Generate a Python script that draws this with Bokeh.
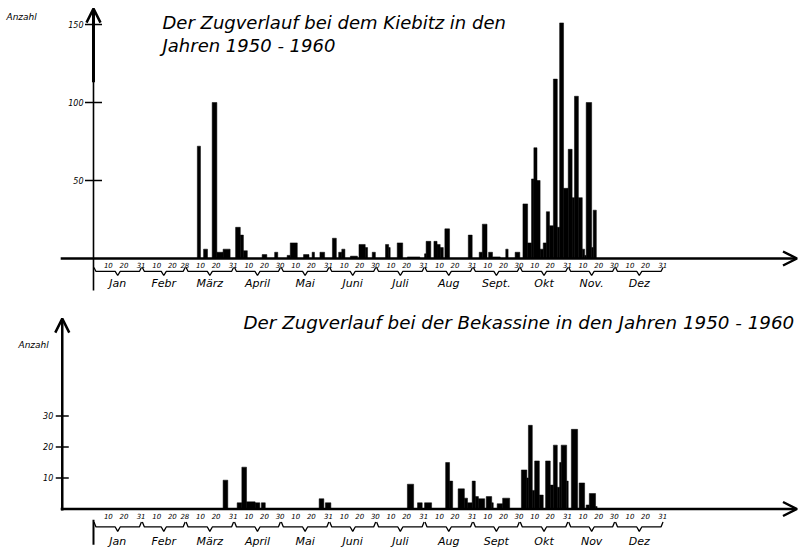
from bokeh.plotting import figure
from bokeh.models import Range1d, Arrow, OpenHead, Label
from bokeh.layouts import column
from bokeh.embed import file_html
from bokeh.resources import INLINE
from bokeh.core.properties import value

# ---------------- data ----------------
month_lengths = [31, 28, 31, 30, 31, 30, 31, 31, 30, 31, 30, 31]
months_kiebitz = ["Jan", "Febr", "März", "April", "Mai", "Juni", "Juli",
                  "Aug", "Sept.", "Okt", "Nov.", "Dez"]
months_bekassine = ["Jan", "Febr", "März", "April", "Mai", "Juni", "Juli",
                    "Aug", "Sept", "Okt", "Nov", "Dez"]

# day of year (0 = 1. Jan) where each period starts / ends, and number of birds
kiebitz_start = [66.5, 70.5, 76, 79, 83, 91, 94, 96, 108, 116, 124, 126, 134.5, 140,
                 145, 153, 157, 159, 164.5, 170, 174, 178.5, 187, 189, 194.5, 201,
                 212, 213, 218, 220, 222, 225, 240, 247, 249, 253, 255.5, 264, 270,
                 275, 278, 280.5, 282, 284, 286, 288, 290, 292, 294.5, 297, 298.5,
                 301, 304, 306.5, 308, 310.5, 313, 314.5, 315.5, 319, 320]
kiebitz_end = [68.5, 73, 79, 83, 87.5, 94, 96, 98.5, 111, 118, 126, 130.5, 138, 141.5,
               148, 155.5, 159, 161, 169, 174, 175.5, 180.5, 189, 190, 198, 209,
               213, 216, 220, 222, 224, 228, 242.5, 249, 252, 255.5, 260.5, 265.5, 273,
               278, 280.5, 282, 284, 286, 288, 290, 292, 294.5, 297, 298.5, 301,
               304, 306.5, 308, 310.5, 313, 314.5, 315.5, 319, 320, 322]
kiebitz_count = [72, 6, 100, 4, 6, 20, 15, 5, 2.5, 4, 2, 10, 2.5, 4,
                 4, 13, 4, 6, 1.5, 9, 7, 4, 9, 7, 10, 1,
                 3, 11, 11, 9, 7, 19, 15, 4, 22, 4, 1, 6, 4,
                 35, 10, 51, 71, 50, 6, 10, 30, 21, 115, 20, 151,
                 45, 70, 39, 104, 39, 6, 2, 100, 7, 31]

bekassine_start = [83, 92, 95, 98, 103.5, 107.5, 144.5, 148.5, 201, 207.5, 212,
                   225.5, 228, 233.5, 237.5, 239.5, 242.5, 244.5, 246.5, 251.5, 255,
                   258.5, 262, 274, 277.5, 278.5, 281, 282.5, 285.5, 289.5, 292.5,
                   294.5, 297, 298.5, 299.5, 303, 306, 311, 315.5, 317.5, 321.5]
bekassine_end = [86, 95, 98, 103.5, 106.5, 110, 147.5, 152, 205, 210.5, 216.5,
                 228, 230, 237.5, 239.5, 242.5, 244.5, 246.5, 250.5, 255, 256,
                 262, 266.5, 277.5, 278.5, 281, 282.5, 285.5, 288, 292.5, 294.5,
                 297, 298.5, 299.5, 303, 304, 310, 314.5, 317.5, 321.5, 322.5]
bekassine_count = [9.3, 2, 13.5, 2.3, 2, 2, 3.3, 2, 8, 2, 2,
                   15, 9, 6.5, 3.5, 2, 9, 4, 3.3, 4, 2,
                   1.7, 3.5, 12.6, 10, 27, 6, 15.5, 4.5, 15.5, 7.7,
                   20.6, 7, 15, 20.6, 9, 25.7, 8.4, 1.3, 5, 0.8]

kiebitz_yticks = [50, 100, 150]
bekassine_yticks = [10, 20, 30]

title_kiebitz_1 = "Der Zugverlauf bei dem Kiebitz  in den"
title_kiebitz_2 = "Jahren  1950 - 1960"
title_bekassine = "Der Zugverlauf bei der Bekassine  in den Jahren 1950 - 1960"

# ---------------- layout ----------------
FONT = "DejaVu Sans"
W = 800
H1 = 300
H2 = 250
X_RANGE = (-59.55, 452.74)


def make_fig(height, y0, y1):
    p = figure(width=W, height=height, x_range=Range1d(*X_RANGE),
               y_range=Range1d(y0, y1), output_backend="svg",
               toolbar_location=None, x_axis_location=None,
               y_axis_location=None, min_border=0, outline_line_color=None)
    p.grid.visible = False
    p.background_fill_color = "white"
    p.border_fill_color = "white"
    return p


def month_bounds():
    starts = []
    s = 0
    for L in month_lengths:
        starts.append(s)
        s += L
    return starts


def time_axis(p, names, y_lab, y_hook, y_line, y_point, y_month, lab_size, month_size):
    starts = month_bounds()
    tx, ty, tt = [], [], []
    for s, L in zip(starts, month_lengths):
        for d in (10, 20, L):
            tx.append(s + d - 0.5)
            ty.append(y_lab)
            tt.append(str(d))
    p.text(x=tx, y=ty, text=tt, text_font=value(FONT), text_font_style="italic",
           text_font_size=lab_size, text_align="center", text_baseline="middle",
           text_color="black")
    xs, ys, mx, my = [], [], [], []
    for s, L in zip(starts, month_lengths):
        e = s + L
        mid = s + L / 2
        xs.append([s + 0.3, s + 1.6, mid - 1.6, mid, mid + 1.6, e - 1.6, e - 0.3])
        ys.append([y_hook, y_line, y_line, y_point, y_line, y_line, y_hook])
        mx.append(mid)
        my.append(y_month)
    p.multi_line(xs=xs, ys=ys, line_color="black", line_width=1.3)
    p.text(x=mx, y=my, text=names, text_font=value(FONT), text_font_style="italic",
           text_font_size=month_size, text_align="center", text_baseline="middle",
           text_color="black")


# ---------- top: Kiebitz ----------
p1 = make_fig(H1, -26.92, 165.38)
p1.quad(left=kiebitz_start, right=kiebitz_end, bottom=0, top=kiebitz_count,
        fill_color="black", line_color="black", line_width=0.5)
p1.add_layout(Arrow(end=OpenHead(size=14, line_width=2.5, line_color="black"),
                    x_start=-21, y_start=0, x_end=450.5, y_end=0,
                    line_width=2.5, line_color="black"))
p1.add_layout(Arrow(end=OpenHead(size=14, line_width=2.5, line_color="black"),
                    x_start=0, y_start=-20.5, x_end=0, y_end=160.2,
                    line_width=1.6, line_color="black"))
p1.segment(x0=[0], y0=[113], x1=[0], y1=[159], line_width=3, line_color="black")
p1.scatter(x=[0] * len(kiebitz_yticks), y=kiebitz_yticks, marker="dash", size=17,
           line_width=1.5, line_color="black")
p1.text(x=[0] * len(kiebitz_yticks), y=kiebitz_yticks,
        text=[str(v) for v in kiebitz_yticks], x_offset=-10,
        text_font=value(FONT), text_font_style="italic", text_font_size="8px",
        text_align="right", text_baseline="middle", text_color="black")
time_axis(p1, months_kiebitz, -3.85, -5.8, -8.3, -10.9, -16.0, "7px", "11px")
p1.add_layout(Label(x=6, y=284, x_units="screen", y_units="screen", text="Anzahl",
                    text_font=FONT, text_font_style="italic", text_font_size="9px",
                    text_baseline="middle", text_color="black"))
p1.add_layout(Label(x=162, y=278, x_units="screen", y_units="screen",
                    text=title_kiebitz_1, text_font=FONT, text_font_style="italic",
                    text_font_size="18px", text_baseline="middle", text_color="black"))
p1.add_layout(Label(x=162, y=255, x_units="screen", y_units="screen",
                    text=title_kiebitz_2, text_font=FONT, text_font_style="italic",
                    text_font_size="18px", text_baseline="middle", text_color="black"))

# ---------- bottom: Bekassine ----------
p2 = make_fig(H2, -13.39, 67.26)
p2.quad(left=bekassine_start, right=bekassine_end, bottom=0, top=bekassine_count,
        fill_color="black", line_color="black", line_width=0.5)
p2.add_layout(Arrow(end=OpenHead(size=14, line_width=2.5, line_color="black"),
                    x_start=-21, y_start=0, x_end=450.5, y_end=0,
                    line_width=2.5, line_color="black"))
p2.add_layout(Arrow(end=OpenHead(size=14, line_width=2.5, line_color="black"),
                    x_start=-20, y_start=-0.5, x_end=-20, y_end=61.4,
                    line_width=2.5, line_color="black"))
p2.segment(x0=[0], y0=[-3.5], x1=[0], y1=[-11.5], line_width=2, line_color="black")
p2.scatter(x=[-20] * len(bekassine_yticks), y=bekassine_yticks, marker="dash", size=13,
           line_width=1.5, line_color="black")
p2.text(x=[-20] * len(bekassine_yticks), y=bekassine_yticks,
        text=[str(v) for v in bekassine_yticks], x_offset=-9,
        text_font=value(FONT), text_font_style="italic", text_font_size="8px",
        text_align="right", text_baseline="middle", text_color="black")
time_axis(p2, months_bekassine, -2.4, -4.2, -5.8, -7.2, -10.5, "7px", "11px")
p2.add_layout(Label(x=18, y=206, x_units="screen", y_units="screen", text="Anzahl",
                    text_font=FONT, text_font_style="italic", text_font_size="9px",
                    text_baseline="middle", text_color="black"))
p2.add_layout(Label(x=243, y=228, x_units="screen", y_units="screen",
                    text=title_bekassine, text_font=FONT, text_font_style="italic",
                    text_font_size="18.3px", text_baseline="middle", text_color="black"))

layout = column(p1, p2, spacing=0)
open("out.html", "w").write(file_html(layout, INLINE))
